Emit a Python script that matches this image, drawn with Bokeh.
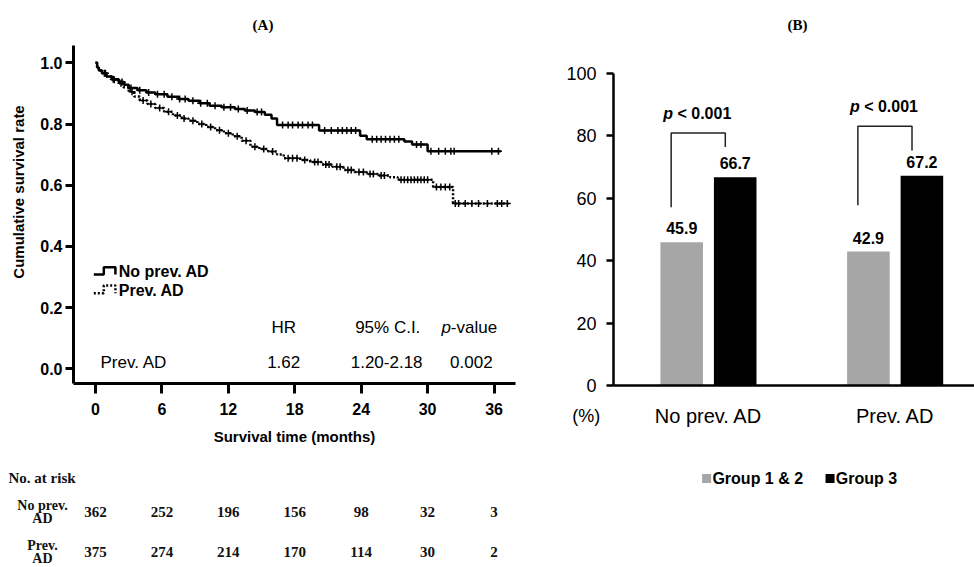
import numpy as np
from bokeh.plotting import figure
from bokeh.layouts import row, column
from bokeh.models import Range1d, FixedTicker, PrintfTickFormatter
from bokeh.embed import file_html
from bokeh.resources import INLINE
from bokeh.core.properties import value

SANS = "Liberation Sans"
SERIF = "Liberation Serif"

# ---------------- Panel A data ----------------
month_ticks = [0, 6, 12, 18, 24, 30, 36]
surv_ticks = [0.0, 0.2, 0.4, 0.6, 0.8, 1.0]

no_prev_t = [0, 0.15, 0.3, 0.6, 1.0, 1.5, 2.1, 2.6, 3.0, 3.8, 4.6, 5.4, 6.5, 7.5, 8.4, 9.4,
             10.3, 11.4, 12.6, 13.5, 14.4, 15.3, 15.9, 16.4, 20.2, 23.9, 24.5, 27.9, 28.6,
             30.0, 36.6]
no_prev_s = [1.0, 0.985, 0.975, 0.966, 0.955, 0.946, 0.937, 0.928, 0.918, 0.910, 0.903,
             0.897, 0.889, 0.882, 0.876, 0.868, 0.860, 0.855, 0.849, 0.844, 0.839, 0.830,
             0.818, 0.797, 0.779, 0.762, 0.750, 0.743, 0.733, 0.711, 0.711]

prev_t = [0, 0.15, 0.3, 0.6, 1.0, 1.5, 2.1, 2.5, 3.0, 3.5, 4.0, 4.7, 5.4, 6.2, 7.0, 7.8, 8.4,
          9.2, 10.0, 10.8, 11.6, 12.4, 13.2, 14.0, 14.8, 15.6, 16.4, 17.0, 18.5, 19.4, 20.4,
          21.4, 22.4, 23.4, 24.5, 25.5, 26.6, 27.3, 30.5, 32.3, 37.3]
prev_s = [1.0, 0.985, 0.975, 0.966, 0.955, 0.945, 0.933, 0.920, 0.905, 0.890, 0.877, 0.865,
          0.852, 0.840, 0.828, 0.818, 0.811, 0.800, 0.790, 0.780, 0.770, 0.760, 0.745, 0.726,
          0.718, 0.710, 0.700, 0.688, 0.682, 0.676, 0.668, 0.660, 0.650, 0.643, 0.637, 0.632,
          0.626, 0.618, 0.594, 0.540, 0.540]

no_prev_cens = [0.8, 1.6, 2.4, 3.2, 4.0, 4.8, 5.6, 6.2, 6.9, 7.6, 8.1, 8.8, 9.5, 10.1, 10.8,
                11.6, 12.2, 12.9, 13.7, 14.6, 15.0, 16.9, 17.4, 17.8, 18.3, 18.7, 19.2, 19.6,
                20.7, 21.3, 21.9, 22.3, 22.7, 23.1, 23.5, 25.0, 25.4, 25.8, 26.2, 26.6, 27.0,
                27.4, 29.0, 29.4, 30.3, 31.0, 31.6, 32.1, 32.4, 35.8, 36.4]
prev_cens = [0.9, 1.7, 2.3, 3.3, 4.3, 5.0, 5.8, 6.6, 7.4, 8.0, 8.8, 9.6, 10.4, 11.2, 12.0,
             12.8, 13.6, 14.4, 15.2, 16.0, 17.4, 17.8, 18.2, 18.9, 19.8, 20.1, 20.8, 21.1,
             21.8, 22.1, 22.8, 23.1, 23.8, 24.2, 24.8, 25.1, 25.8, 26.1, 27.6, 27.9, 28.2,
             28.5, 28.8, 29.1, 29.4, 29.7, 30.0, 30.8, 31.2, 31.6, 32.0, 32.5, 32.8, 33.4,
             34.0, 34.6, 35.4, 36.3, 36.7, 37.2]

risk_groups = [["No prev.", "AD"], ["Prev.", "AD"]]
risk_no_prev = [362, 252, 196, 156, 98, 32, 3]
risk_prev = [375, 274, 214, 170, 114, 30, 2]

hr_group = "Prev. AD"
hr_headers = ["HR", "95% C.I."]
hr_values = ["1.62", "1.20-2.18", "0.002"]

# ---------------- Panel B data ----------------
categories = ["No prev. AD", "Prev. AD"]
series_names = ["Group 1 & 2", "Group 3"]
series_colors = ["#A6A6A6", "black"]
group12 = [45.9, 42.9]
group3 = [66.7, 67.2]
pct_ticks = [0, 20, 40, 60, 80, 100]
bracket_top = [80.9, 83.0]
bracket_left_bottom = [57.1, 57.7]
bracket_right_bottom = [76.4, 75.3]


def surv_at(times, t_arr, s_arr):
    idx = np.searchsorted(np.array(t_arr), np.array(times), side="right") - 1
    return list(np.array(s_arr)[idx])


def bare(p):
    p.outline_line_color = None
    p.xgrid.visible = False
    p.ygrid.visible = False


# ================= Figure A (curves) =================
pA = figure(width=540, height=455, output_backend="svg", toolbar_location=None,
            x_range=Range1d(-1.987, 37.94), y_range=Range1d(-0.048, 1.2036),
            min_border_left=73, min_border_right=25, min_border_top=0, min_border_bottom=72)
bare(pA)

pA.step(no_prev_t, no_prev_s, mode="after", line_color="black", line_width=2.5)
pA.step(prev_t, prev_s, mode="after", line_color="black", line_width=2.5, line_dash="2 2")
pA.scatter(no_prev_cens, surv_at(no_prev_cens, no_prev_t, no_prev_s), marker="cross",
           size=7, line_color="black", line_width=1.5)
pA.scatter(prev_cens, surv_at(prev_cens, prev_t, prev_s), marker="cross",
           size=7, line_color="black", line_width=1.5)

for ax in (pA.xaxis[0], pA.yaxis[0]):
    ax.axis_line_width = 3
    ax.major_tick_line_width = 3
    ax.minor_tick_line_color = None
    ax.major_tick_in = 0
    ax.major_label_text_font = SANS
    ax.major_label_text_font_style = "bold"
    ax.major_label_text_font_size = "16px"
    ax.major_label_text_color = "black"
    ax.axis_label_text_font = SANS
    ax.axis_label_text_font_style = "bold"
    ax.axis_label_text_font_size = "15px"
    ax.axis_label_text_color = "black"

pA.xaxis.ticker = FixedTicker(ticks=month_ticks)
pA.xaxis.major_tick_out = 10
pA.xaxis.major_label_standoff = 9
pA.xaxis.axis_label = "Survival time (months)"
pA.xaxis.axis_label_standoff = 10

pA.yaxis.ticker = FixedTicker(ticks=surv_ticks)
pA.yaxis.formatter = PrintfTickFormatter(format="%.1f")
pA.yaxis.bounds = (-0.048, 1.057)
pA.yaxis.major_tick_out = 8
pA.yaxis.major_label_standoff = 3
pA.yaxis.axis_label = "Cumulative survival rate"
pA.yaxis.axis_label_standoff = 10

# legend (step icons)
pA.line([-0.15, 0.75, 0.75, 1.8, 1.8], [0.308, 0.308, 0.332, 0.332, 0.308],
        line_color="black", line_width=2.5)
pA.line([-0.15, 0.75, 0.75, 1.8, 1.8], [0.247, 0.247, 0.272, 0.272, 0.247],
        line_color="black", line_width=2.5, line_dash="2 2")
pA.text(x=[2.1, 2.1], y=[0.318, 0.256], text=["No prev. AD", "Prev. AD"],
        text_font=value(SANS), text_font_style="bold", text_font_size="16px",
        text_baseline="middle", text_align="left", text_color="black")

# HR table
hr_kw = dict(text_font=value(SANS), text_font_size="17px", text_baseline="middle",
             text_color="black")
pA.text(x=[17.0, 26.4], y=[0.136, 0.136], text=hr_headers, text_align="center", **hr_kw)
pA.text(x=[32.1], y=[0.136], text=["p"], text_font_style="italic", text_align="right", **hr_kw)
pA.text(x=[32.1], y=[0.136], text=["-value"], text_align="left", **hr_kw)
pA.text(x=[0.45], y=[0.0216], text=[hr_group], text_align="left", **hr_kw)
pA.text(x=[17.0, 26.3, 33.95], y=[0.0216] * 3, text=hr_values, text_align="center", **hr_kw)

# Title (A)
pA.text(x=[15.13], y=[1.122], text=["(A)"], text_font=value(SERIF), text_font_style="bold",
        text_font_size="15px", text_align="center", text_baseline="middle", text_color="black")

# ================= Number at risk table =================
pT = figure(width=540, height=112, output_backend="svg", toolbar_location=None,
            x_range=Range1d(-8.582, 40.199), y_range=Range1d(112, 0),
            min_border_left=0, min_border_right=0, min_border_top=0, min_border_bottom=0)
bare(pT)
pT.axis.visible = False
tkw = dict(text_font=value(SERIF), text_font_style="bold", text_font_size="15px",
           text_baseline="middle", text_color="#111111")
pT.text(x=[-7.86], y=[22], text=["No. at risk"], text_align="left", **tkw)
row_y = [56, 96]
for names, counts, yy in zip(risk_groups, [risk_no_prev, risk_prev], row_y):
    pT.text(x=[-4.79, -4.79], y=[yy - 6.5, yy + 6.5], text=names, text_align="center",
            text_font=value(SERIF), text_font_style="bold", text_font_size="14px",
            text_baseline="middle", text_color="#111111")
    pT.text(x=month_ticks, y=[yy] * len(month_ticks), text=[str(c) for c in counts],
            text_align="center", **tkw)

# ================= Figure B (bars) =================
xi = np.arange(1, len(categories) + 1)
pB = figure(width=434, height=400, output_backend="svg", toolbar_location=None,
            x_range=Range1d(0.4912, 2.4247), y_range=Range1d(0, 123.3),
            min_border_left=73, min_border_right=0, min_border_top=0, min_border_bottom=15)
bare(pB)

bar_w = 0.228
offsets = [-0.1435, 0.143]
for vals, off, col in zip([group12, group3], offsets, series_colors):
    pB.vbar(x=xi + off, top=vals, width=bar_w, fill_color=col, line_color=None)
    pB.text(x=xi + off, y=vals, text=[f"{v:.1f}" for v in vals], y_offset=-14,
            text_font=value(SANS), text_font_style="bold", text_font_size="16px",
            text_align="center", text_baseline="middle", text_color="black")

for c, top, lb, rb in zip(xi, bracket_top, bracket_left_bottom, bracket_right_bottom):
    pB.line([c - 0.2, c - 0.2, c + 0.09, c + 0.09], [lb, top, top, rb],
            line_color="#222222", line_width=1.5)
pkw = dict(text_font=value(SANS), text_font_size="16px", text_baseline="middle",
           text_color="black")
pB.text(x=xi - 0.19, y=np.array(bracket_top) + 6.3, text=["p", "p"],
        text_font_style="bold italic", text_align="right", **pkw)
pB.text(x=xi - 0.19, y=np.array(bracket_top) + 6.3, text=["\u00a0< 0.001"] * 2,
        text_font_style="bold", text_align="left", **pkw)

pB.text(x=[1.477], y=[115.3], text=["(B)"], text_font=value(SERIF), text_font_style="bold",
        text_font_size="15px", text_align="center", text_baseline="middle", text_color="black")

for ax in (pB.xaxis[0], pB.yaxis[0]):
    ax.axis_line_width = 2.5
    ax.minor_tick_line_color = None
    ax.major_tick_in = 0
    ax.major_label_text_font = SANS
    ax.major_label_text_color = "black"

pB.xaxis.ticker = FixedTicker(ticks=[])
pB.xaxis.major_tick_line_color = None
pB.xaxis.major_tick_out = 0
pB.xaxis.major_label_standoff = 0
pB.xaxis.major_label_text_font_size = "0px"

pB.yaxis.ticker = FixedTicker(ticks=pct_ticks)
pB.yaxis.bounds = (0, 100)
pB.yaxis.major_tick_line_width = 2.5
pB.yaxis.major_tick_out = 7
pB.yaxis.major_label_standoff = 10
pB.yaxis.major_label_text_font_size = "18px"

# ================= Below panel B: categories + legend =================
pL = figure(width=434, height=167, output_backend="svg", toolbar_location=None,
            x_range=Range1d(0.1002, 2.4247), y_range=Range1d(167, 0),
            min_border_left=0, min_border_right=0, min_border_top=0, min_border_bottom=0)
bare(pL)
pL.axis.visible = False
pL.text(x=xi, y=[15] * len(categories), text=categories, text_font=value(SANS),
        text_font_size="20px", text_align="center", text_baseline="middle",
        text_color="black")
pL.text(x=[0.345], y=[15], text=["(%)"], text_font=value(SANS), text_font_size="18px",
        text_align="center", text_baseline="middle", text_color="black")
# legend swatches + labels
legend_x = [0.990, 1.651]
pL.scatter(x=legend_x, y=[78, 78], marker="square", size=9, fill_color=series_colors,
           line_color=None)
pL.text(x=[lx + 0.031 for lx in legend_x], y=[78, 78], text=series_names,
        text_font=value(SANS), text_font_style="bold", text_font_size="16px",
        text_align="left", text_baseline="middle", text_color="black")

for p in (pA, pT, pB, pL):
    p.frame_align = False

layout = row(column(pA, pT), column(pB, pL))
open("out.html", "w").write(file_html(layout, INLINE))
